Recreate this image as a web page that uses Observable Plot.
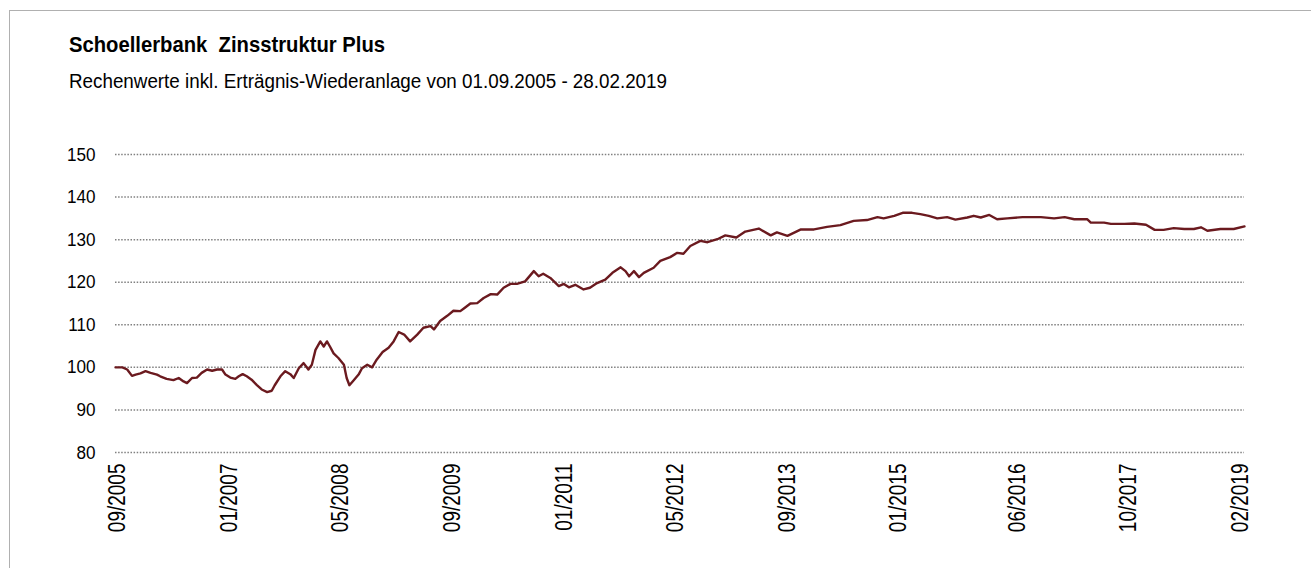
<!DOCTYPE html>
<html>
<head>
<meta charset="utf-8">
<script src="https://cdn.jsdelivr.net/npm/d3@7"></script>
<script src="https://cdn.jsdelivr.net/npm/@observablehq/plot@0.6"></script>
<style>
  html, body { margin: 0; padding: 0; background: #fff; width: 1311px; height: 568px; overflow: hidden; }
  #frame { position: absolute; left: 9px; top: 10px; width: 1400px; height: 700px; border: 1px solid #b0b0b0; box-sizing: border-box; }
  .hd { font-family: "Liberation Sans", Arial, sans-serif; position: absolute; left: 69px; color: #000; white-space: nowrap; transform-origin: 0 50%; display: inline-block; }
  #title { top: 34px; font-size: 22.5px; line-height: 22px; font-weight: bold; }
  #subtitle { top: 72px; font-size: 19.5px; line-height: 19.5px; }
  #chart { position: absolute; left: 0; top: 110px; }
</style>
</head>
<body>
<div id="frame"></div>
<div id="title" class="hd">Schoellerbank&nbsp; Zinsstruktur Plus</div>
<div id="subtitle" class="hd">Rechenwerte inkl. Erträgnis-Wiederanlage von 01.09.2005 - 28.02.2019</div>
<div id="chart"></div>
<script>
const dates = [
  "2005-09-01","2005-10-01","2005-10-22","2005-11-12","2005-11-28","2005-12-19","2006-01-10","2006-02-01","2006-03-01","2006-03-15",
  "2006-04-12","2006-05-12","2006-06-04","2006-06-25","2006-07-10","2006-08-01","2006-08-22","2006-09-12","2006-10-06","2006-10-28",
  "2006-11-18","2006-12-10","2006-12-25","2007-01-15","2007-02-06","2007-02-21","2007-03-10","2007-03-28","2007-04-18","2007-05-10",
  "2007-06-01","2007-06-25","2007-07-15","2007-07-28","2007-08-22","2007-09-12","2007-10-04","2007-10-19","2007-11-10","2007-12-01",
  "2007-12-22","2008-01-06","2008-01-22","2008-02-12","2008-02-27","2008-03-12","2008-03-25","2008-04-10","2008-05-01","2008-05-25",
  "2008-06-06","2008-06-18","2008-07-06","2008-07-28","2008-08-12","2008-09-04","2008-09-25","2008-10-15","2008-11-10","2008-12-06",
  "2008-12-28","2009-01-19","2009-02-12","2009-03-10","2009-04-10","2009-05-07","2009-06-07","2009-06-22","2009-07-19","2009-08-19",
  "2009-09-15","2009-10-15","2009-11-01","2009-11-28","2009-12-28","2010-01-25","2010-02-25","2010-03-25","2010-04-22","2010-05-22",
  "2010-06-19","2010-07-25","2010-09-01","2010-09-22","2010-10-12","2010-11-12","2010-12-19","2011-01-10","2011-02-01","2011-03-01",
  "2011-04-06","2011-05-04","2011-06-04","2011-07-10","2011-08-10","2011-09-15","2011-10-06","2011-10-22","2011-11-12","2011-12-04",
  "2011-12-25","2012-02-06","2012-03-06","2012-04-18","2012-05-19","2012-06-15","2012-07-15","2012-08-28","2012-09-28","2012-11-10",
  "2012-12-15","2013-02-01","2013-03-12","2013-05-10","2013-07-01","2013-07-28","2013-09-12","2013-11-10","2014-01-06","2014-03-04",
  "2014-05-01","2014-06-28","2014-08-25","2014-10-10","2014-11-06","2014-12-22","2015-01-28","2015-03-10","2015-04-15","2015-05-22",
  "2015-06-28","2015-08-10","2015-09-15","2015-11-06","2015-12-04","2016-01-04","2016-02-10","2016-03-15","2016-04-28","2016-07-04",
  "2016-09-22","2016-11-19","2017-01-04","2017-02-15","2017-04-12","2017-04-28","2017-06-25","2017-07-25","2017-09-22","2017-11-04",
  "2017-12-25","2018-02-01","2018-03-12","2018-04-25","2018-06-10","2018-07-22","2018-08-22","2018-09-19","2018-11-15","2019-01-12",
  "2019-02-28"
];
const values = [
  100.0,100.0,99.5,98.0,98.3,98.6,99.1,98.7,98.3,97.9,
  97.3,97.0,97.5,96.7,96.3,97.5,97.6,98.7,99.5,99.2,
  99.5,99.5,98.3,97.6,97.3,97.9,98.4,97.9,97.1,95.9,
  94.8,94.2,94.5,95.8,97.9,99.1,98.4,97.5,99.8,101.0,
  99.5,100.6,104.1,106.1,104.9,106.1,104.9,103.3,102.2,100.6,
  97.5,95.8,96.9,98.3,99.8,100.6,100.0,101.8,103.6,104.6,
  106.1,108.3,107.7,106.1,107.7,109.3,109.7,108.9,110.9,112.1,
  113.3,113.2,113.9,115.0,115.1,116.3,117.2,117.1,118.7,119.6,
  119.6,120.2,122.6,121.4,122.0,121.0,119.1,119.6,118.8,119.4,
  118.3,118.7,119.8,120.6,122.2,123.5,122.6,121.4,122.6,121.2,
  122.2,123.4,125.0,125.9,126.9,126.7,128.5,129.7,129.4,130.1,
  131.0,130.5,131.9,132.6,131.0,131.7,130.9,132.4,132.4,133.0,
  133.4,134.4,134.6,135.3,135.0,135.6,136.3,136.3,136.0,135.6,
  135.0,135.3,134.7,135.2,135.6,135.2,135.8,134.8,135.0,135.3,
  135.3,135.0,135.3,134.8,134.8,134.0,134.0,133.7,133.7,133.8,
  133.5,132.3,132.3,132.7,132.5,132.5,132.9,132.1,132.5,132.5,
  133.1
];
const yTicks = [80, 90, 100, 110, 120, 130, 140, 150];
const xTickLabels = ["09/2005","01/2007","05/2008","09/2009","01/2011","05/2012","09/2013","01/2015","06/2016","10/2017","02/2019"];

const parse = d3.utcParse("%Y-%m-%d");
const parseTick = d3.utcParse("%m/%Y");
const series = dates.map((d, i) => ({date: parse(d), value: values[i]}));
const xTicks = xTickLabels.map(parseTick);

// condense header text to the reference's narrow typeface widths
function condense(id, targetWidth) {
  const el = document.getElementById(id);
  const w = el.getBoundingClientRect().width;
  el.style.transform = `scaleX(${targetWidth / w})`;
}
condense("title", 316);
condense("subtitle", 598);

const chart = Plot.plot({
  width: 1311,
  height: 458,
  marginLeft: 115,
  marginRight: 67,
  marginTop: 44,
  marginBottom: 116,
  style: {background: "transparent", color: "#000", fontFamily: '"Liberation Sans", Arial, sans-serif'},
  x: {type: "utc", domain: [parse("2005-09-01"), parse("2019-02-28")]},
  y: {domain: [80, 150]},
  marks: [
    Plot.ruleY(yTicks, {y: d => d, stroke: "#808080", strokeWidth: 1.5, strokeDasharray: "1.5,1.6"}),
    Plot.axisY({ticks: yTicks, tickSize: 0, tickPadding: 20, fontSize: 19, label: null}),
    Plot.axisX({ticks: xTicks, tickFormat: d3.utcFormat("%m/%Y"), tickRotate: -90, tickSize: 0, tickPadding: 11, fontSize: 19, dx: 2, label: null}),
    Plot.line(series, {x: "date", y: "value", stroke: "#6b1a1f", strokeWidth: 2.4})
  ]
});
document.getElementById("chart").appendChild(chart);
// narrow the y-axis digits like the reference's condensed face
d3.select(chart).selectAll('g[aria-label="y-axis tick label"] text').each(function() {
  const t = this.getAttribute("transform") || "";
  this.setAttribute("transform", t + " scale(0.9,1)");
});
// rotated x labels in the reference have taller glyphs
d3.select(chart).selectAll('g[aria-label="x-axis tick label"] text').each(function() {
  const t = this.getAttribute("transform") || "";
  this.setAttribute("transform", t + " scale(1,1.28)");
});
</script>
</body>
</html>
